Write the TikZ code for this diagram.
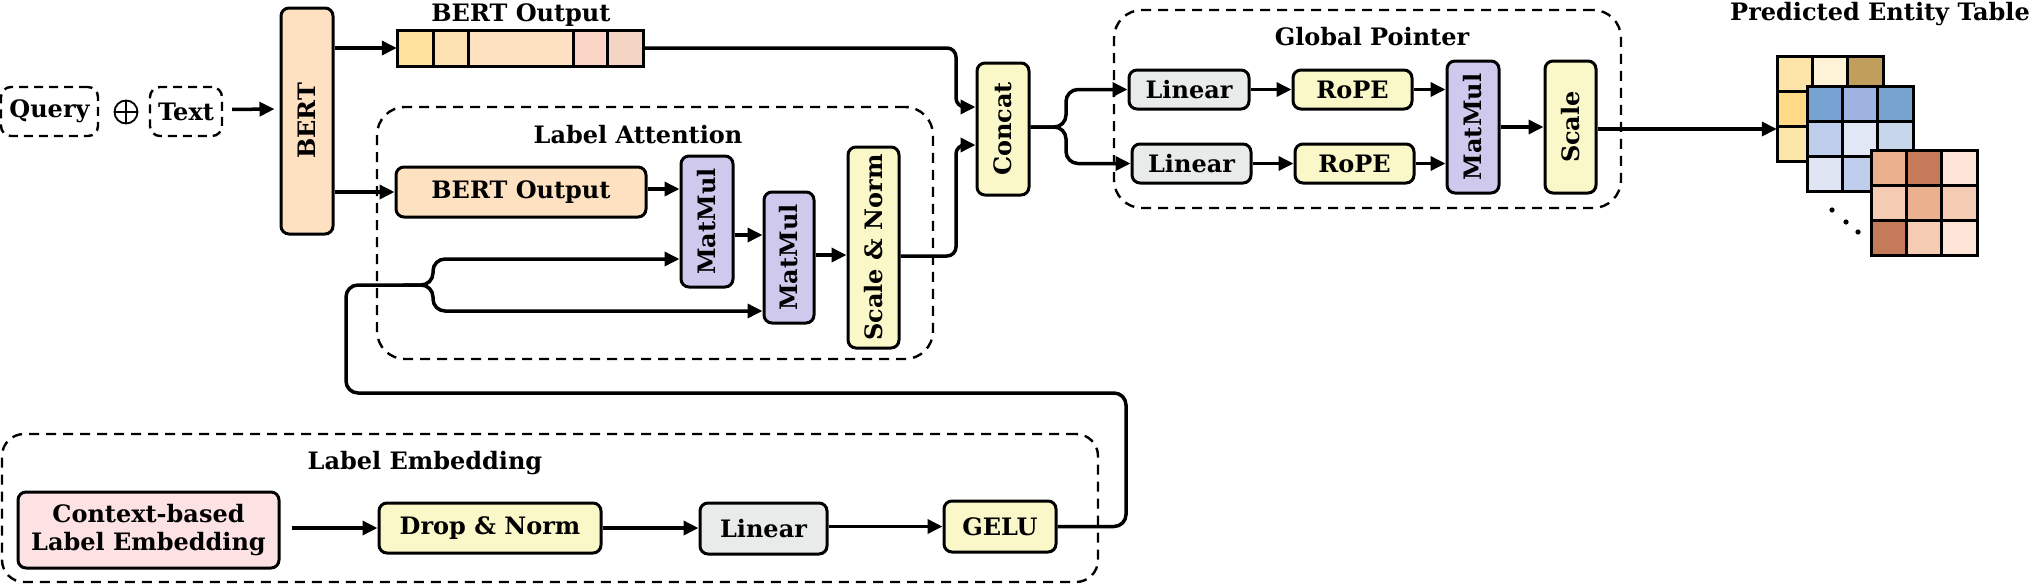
\documentclass[tikz,border=0pt]{standalone}
\usepackage{fontspec}
\setmainfont{DejaVu Serif}
\usetikzlibrary{arrows.meta,calc}
\definecolor{peach}{HTML}{FDE1C1}
\definecolor{mmpurple}{HTML}{CFC9EE}
\definecolor{ylw}{HTML}{FAF7C8}
\definecolor{greyl}{HTML}{E8EBEA}
\definecolor{pinkc}{HTML}{FDE2E3}
\definecolor{bc1}{HTML}{FDE39E}
\definecolor{bc2}{HTML}{FBE2B0}
\definecolor{bc3}{HTML}{FDE1C1}
\definecolor{bc4}{HTML}{FAD4C4}
\definecolor{bc5}{HTML}{F4D5C4}
\begin{document}
\begin{tikzpicture}[x=1pt,y=-1pt,
  every node/.style={font=\fontsize{24}{31}\selectfont\bfseries},
  blk/.style={draw=black, line width=3pt, rounded corners=8pt, inner sep=0pt, align=center},
  cont/.style={draw=black, line width=2.4pt, dash pattern=on 10pt off 7pt, rounded corners=28pt, inner sep=0pt},
  inbox/.style={draw=black, line width=2.4pt, dash pattern=on 9pt off 6pt, rounded corners=10pt, inner sep=0pt},
  ttl/.style={anchor=base, inner sep=0pt},
  arr/.style={line width=3.5pt, -{Triangle[length=15pt,width=14pt]}},
  cell/.style={draw=black, line width=3pt},
]
\useasboundingbox (0,0) rectangle (2033,584);

% containers
\node[cont, minimum width=556pt, minimum height=252pt] (la) at (655,233) {};
\node[cont, minimum width=507pt, minimum height=198pt] (gp) at (1367.5,109) {};
\node[cont, rounded corners=22pt, minimum width=1096pt, minimum height=148pt] (le) at (550,508) {};

% titles
\node[ttl] (t-bo) at (521,21) {BERT Output};
\node[ttl] (t-la) at (638,143) {Label Attention};
\node[ttl] (t-gp) at (1372,45) {Global Pointer};
\node[ttl, anchor=base east] (t-pe) at (2030,20) {Predicted Entity Table};
\node[ttl] (t-le) at (425,469) {Label Embedding};

% input
\node[inbox, minimum width=97pt, minimum height=49pt] (query) at (49.5,111.5) {Query};
\node[draw, circle, line width=1.8pt, minimum size=23pt, inner sep=0pt] (plus) at (126,112) {};
\draw[line width=1.8pt] (plus.north) -- (plus.south) (plus.west) -- (plus.east);
\node[inbox, minimum width=72pt, minimum height=49pt] (text) at (186,111.5) {Text};

\node[blk, fill=peach, minimum width=52pt, minimum height=226pt] (bert) at (307,121) {\rotatebox{90}{BERT}};

% top bar of BERT output
\foreach \a/\b/\c in {397/433/bc1, 433/468/bc2, 468/573/bc3, 573/607/bc4, 607/643/bc5}
  \draw[cell, fill=\c] (\a,30) rectangle (\b,66);
\node[minimum width=246pt, minimum height=36pt, inner sep=0pt] (bar) at (520,48) {};

% label attention
\node[blk, fill=peach, minimum width=250pt, minimum height=50pt] (bo2) at (521,192) {BERT Output};
\node[blk, fill=mmpurple, minimum width=52pt, minimum height=131pt] (mm1) at (707,221.5) {\rotatebox{90}{MatMul}};
\node[blk, fill=mmpurple, minimum width=50pt, minimum height=131pt] (mm2) at (789,257.5) {\rotatebox{90}{MatMul}};
\node[blk, fill=ylw, minimum width=51pt, minimum height=201pt] (sn) at (873.5,247.5) {\rotatebox{90}{Scale \& Norm}};

\node[blk, fill=ylw, minimum width=52pt, minimum height=132pt] (concat) at (1003,129) {\rotatebox{90}{Concat}};

% global pointer
\node[blk, fill=greyl, minimum width=120pt, minimum height=39pt] (lin1) at (1189,89.5) {Linear};
\node[blk, fill=ylw, minimum width=119pt, minimum height=39pt] (rope1) at (1352.5,89.5) {RoPE};
\node[blk, fill=greyl, minimum width=119pt, minimum height=39pt] (lin2) at (1191.5,163.5) {Linear};
\node[blk, fill=ylw, minimum width=119pt, minimum height=39pt] (rope2) at (1354.5,163.5) {RoPE};
\node[blk, fill=mmpurple, minimum width=52pt, minimum height=132pt] (mm3) at (1473,127) {\rotatebox{90}{MatMul}};
\node[blk, fill=ylw, minimum width=51pt, minimum height=132pt] (scale) at (1570.5,127) {\rotatebox{90}{Scale}};

% label embedding
\node[blk, fill=pinkc, minimum width=261pt, minimum height=76pt] (ctx) at (148.5,530) {Context-based\\[-3pt]Label Embedding};
\node[blk, fill=ylw, minimum width=222pt, minimum height=50pt] (dn) at (490,528) {Drop \& Norm};
\node[blk, fill=greyl, minimum width=127pt, minimum height=51pt] (lin3) at (763.5,528.5) {Linear};
\node[blk, fill=ylw, minimum width=112pt, minimum height=51pt] (gelu) at (1000,526.5) {GELU};

% entity tables
\def\cs{35.33}
\foreach \c [count=\i from 0] in {FCE4A8,FEF3D6,C09F5D,FED986,FDE9B8,D9B97A,FDE6A9,FDECC0,E8CF9B} {
  \definecolor{tmpc}{HTML}{\c}
  \pgfmathtruncatemacro{\col}{mod(\i,3)}
  \pgfmathtruncatemacro{\row}{\i/3}
  \draw[cell, fill=tmpc] ({1777+\col*\cs},{56+\row*\cs}) rectangle ++(\cs,\cs);
}
\foreach \c [count=\i from 0] in {77A2D2,9FB3E1,77A3D1,BECDEB,E1E7F4,C7D6EB,E0E5F3,BDCDEB,C7D6EB} {
  \definecolor{tmpc}{HTML}{\c}
  \pgfmathtruncatemacro{\col}{mod(\i,3)}
  \pgfmathtruncatemacro{\row}{\i/3}
  \draw[cell, fill=tmpc] ({1807+\col*\cs},{86+\row*\cs}) rectangle ++(\cs,\cs);
}
\foreach \c [count=\i from 0] in {EBB08E,C57B59,FCE4D7,F5CBB3,EBB08E,F4CCB4,C57B59,F5CBB3,FCE4D7} {
  \definecolor{tmpc}{HTML}{\c}
  \pgfmathtruncatemacro{\col}{mod(\i,3)}
  \pgfmathtruncatemacro{\row}{\i/3}
  \draw[cell, fill=tmpc] ({1871+\col*\cs},{150+\row*\cs}) rectangle ++(\cs,\cs);
}
\node[minimum width=106pt, minimum height=106pt, inner sep=0pt] (t1) at (1830,109) {};
\fill (1832,210) circle (2.6pt) (1846,222) circle (2.6pt) (1858,232) circle (2.6pt);

% connectors
\draw[arr, shorten <=9pt, shorten >=5pt] ($(text.east)+(0,-2)$) -- ($(bert.west)+(0,-12)$);
\draw[arr] (bert.east |- bar) -- (bar.west);
\draw[arr] (bert.east |- bo2) -- (bo2.west);
\draw[arr] ($(bo2.east)+(0,-3)$) -- ($(mm1.west)+(0,-32.5)$);
\draw[arr] ($(mm1.east)+(0,13.5)$) -- ($(mm2.west)+(0,-22.5)$);
\draw[arr] ($(mm2.east)+(0,-2.5)$) -- ($(sn.west)+(0,7.5)$);

\coordinate (ct) at (956,48);
\coordinate (cb) at (956,256);
\draw[arr, rounded corners=9pt] (bar.east) -- (ct) |- ($(concat.west)+(0,-22)$);
\draw[arr, rounded corners=9pt] ($(sn.east)+(0,8.5)$) -- (cb) |- ($(concat.west)+(0,16)$);

\coordinate (gb) at (1066,127);
\draw[arr, rounded corners=12pt] ($(concat.east)+(0,-2)$) -- (gb) |- (lin1.west);
\draw[arr, rounded corners=12pt] ($(concat.east)+(0,-2)$) -- (gb) |- (lin2.west);
\draw[arr] (lin1.east) -- (rope1.west);
\draw[arr] (rope1.east) -- (rope1.east -| mm3.west);
\draw[arr] (lin2.east) -- (rope2.west);
\draw[arr] (rope2.east) -- (rope2.east -| mm3.west);
\draw[arr] (mm3.east) -- (scale.west);
\draw[arr] ($(scale.east)+(0,2)$) -- ($(scale.east -| t1.west)+(0,2)$);

\draw[arr, shorten <=11pt] (ctx.east |- dn) -- (dn.west);
\draw[arr] (dn.east) -- (dn.east -| lin3.west);
\draw[arr] (lin3.east |- gelu) -- (gelu.west);

\coordinate (fr) at (1126,393);
\coordinate (fl) at (346,393);
\coordinate (fb) at (433,285);
\draw[arr, rounded corners=12pt] (gelu.east) -| (fr) -- (fl) |- (fb) |- ($(mm1.west)+(0,37.5)$);
\draw[arr, rounded corners=12pt] ($(fb)+(-30,0)$) -- (fb) |- ($(mm2.west)+(0,53.5)$);
\end{tikzpicture}
\end{document}
